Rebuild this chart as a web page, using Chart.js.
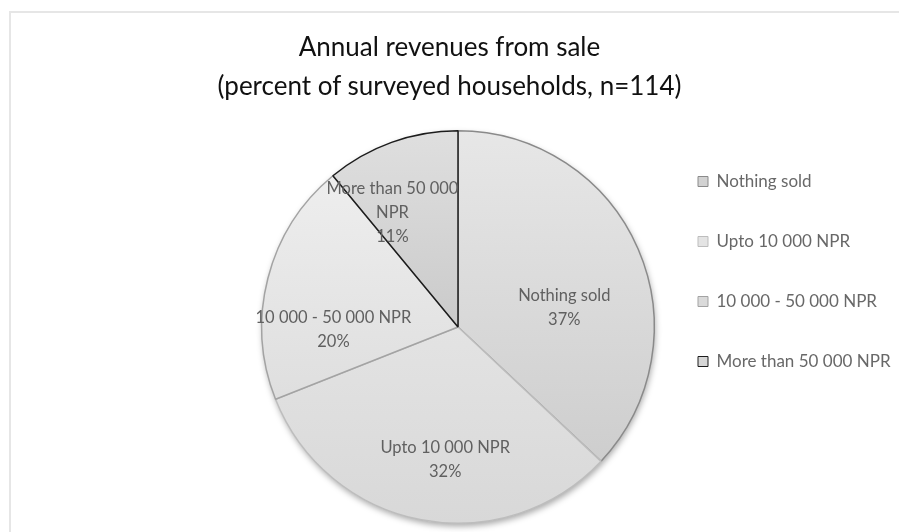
<!DOCTYPE html>
<html>
<head>
<meta charset="utf-8">
<script src="https://cdn.jsdelivr.net/npm/chart.js@4.4.1/dist/chart.umd.min.js"></script>
<style>
    html, body { margin: 0; padding: 0; background: #fff; overflow: hidden; }
    #wrap { position: relative; width: 899px; height: 532px; }
    #frame { position: absolute; left: 9px; top: 11px; width: 900px; height: 530px;
             border-left: 2px solid #e6e6e6; border-top: 2px solid #e6e6e6; }
    #title { position: absolute; left: 0; top: 27px; width: 899px; text-align: center;
             font-family: Lato, sans-serif; font-size: 26px; line-height: 39px; color: #111; }
    canvas { position: absolute; left: 0; top: 0; }
</style>
</head>
<body>
<div id="wrap">
    <div id="frame"></div>
    <canvas id="revenueChart" width="899" height="532"></canvas>
    <div id="title">Annual revenues from sale<br>(percent of surveyed households, n=114)</div>
</div>
<script>
// Revenue classes and share of surveyed households (%)
const categories = ['Nothing sold', 'Upto 10 000 NPR', '10 000 - 50 000 NPR', 'More than 50 000 NPR'];
const shares = [37, 32, 20, 11];

// Slice styling (grey gradients, Excel look)
const gradTop = ['#e7e7e7', '#eeeeee', '#f1f1f1', '#dfdfdf'];
const gradBottom = ['#c9c9c9', '#d8d8d8', '#d6d6d6', '#b6b6b6'];
const sliceBorders = ['#8a8a8a', '#bdbdbd', '#a3a3a3', '#1c1c1c'];
const legendFills = ['#d2d2d2', '#e4e4e4', '#dadada', '#d6d6d6'];

function sliceFill(ctx) {
    const i = ctx.dataIndex;
    const area = ctx.chart.chartArea;
    if (!area) return legendFills[i];
    const g = ctx.chart.ctx.createLinearGradient(0, area.top, 0, area.bottom);
    g.addColorStop(0, gradTop[i]);
    g.addColorStop(1, gradBottom[i]);
    return g;
}

// soft shadow under the pie
const pieShadow = {
    id: 'pieShadow',
    beforeDatasetsDraw(chart) {
        const arc = chart.getDatasetMeta(0).data[0];
        if (!arc) return;
        const { x, y, outerRadius } = arc.getProps(['x', 'y', 'outerRadius'], true);
        const c = chart.ctx;
        c.save();
        c.shadowColor = 'rgba(0,0,0,0.35)';
        c.shadowBlur = 6;
        c.shadowOffsetX = 1;
        c.shadowOffsetY = 3;
        c.beginPath();
        c.arc(x, y, outerRadius, 0, Math.PI * 2);
        c.fillStyle = '#ffffff';
        c.fill();
        c.restore();
    }
};

// category name + percent inside each slice, wrapped like Excel does
const sliceLabels = {
    id: 'sliceLabels',
    afterDatasetsDraw(chart, args, opts) {
        const c = chart.ctx;
        const meta = chart.getDatasetMeta(0);
        c.save();
        c.font = opts.size + 'px ' + opts.family;
        c.fillStyle = opts.color;
        c.textAlign = 'center';
        c.textBaseline = 'middle';
        meta.data.forEach((arc, i) => {
            const p = arc.getProps(['x', 'y', 'startAngle', 'endAngle', 'outerRadius'], true);
            const ang = p.startAngle + opts.angleFrac[i] * (p.endAngle - p.startAngle);
            const r = opts.radiusFrac[i] * p.outerRadius;
            const cx = p.x + Math.cos(ang) * r;
            const cy = p.y + Math.sin(ang) * r;

            // word wrap the category name
            const words = categories[i].split(' ');
            const lines = [];
            let line = '';
            words.forEach(w => {
                const test = line ? line + ' ' + w : w;
                if (line && c.measureText(test).width > opts.wrapWidth) {
                    lines.push(line);
                    line = w;
                } else {
                    line = test;
                }
            });
            lines.push(line);
            lines.push(shares[i] + '%');

            const y0 = cy - (lines.length - 1) * opts.lineHeight / 2;
            lines.forEach((t, k) => c.fillText(t, cx, y0 + k * opts.lineHeight));
        });
        c.restore();
    }
};

new Chart(document.getElementById('revenueChart'), {
    type: 'pie',
    data: {
        labels: categories,
        datasets: [{
            data: shares,
            backgroundColor: sliceFill,
            borderColor: sliceBorders,
            borderWidth: 1.5,
            hoverOffset: 0
        }]
    },
    options: {
        responsive: false,
        animation: false,
        layout: {
            padding: { top: 130, left: 261, right: 0, bottom: 8 }
        },
        plugins: {
            title: { display: false },
            legend: {
                position: 'right',
                align: 'start',
                maxWidth: 244,
                labels: {
                    color: '#686868',
                    font: { family: 'Lato', size: 17 },
                    boxWidth: 10,
                    boxHeight: 10,
                    padding: 43,
                    generateLabels: () => categories.map((name, i) => ({
                        text: name,
                        fillStyle: legendFills[i],
                        strokeStyle: sliceBorders[i],
                        lineWidth: 1,
                        fontColor: '#686868',
                        hidden: false,
                        index: i
                    }))
                }
            },
            tooltip: { enabled: false },
            sliceLabels: {
                family: 'Lato',
                size: 16.5,
                color: '#606060',
                lineHeight: 24,
                wrapWidth: 156,
                angleFrac: [0.60, 0.454, 0.28, 0.245],
                radiusFrac: [0.55, 0.68, 0.635, 0.67]
            }
        }
    },
    plugins: [pieShadow, sliceLabels]
});
</script>
</body>
</html>
